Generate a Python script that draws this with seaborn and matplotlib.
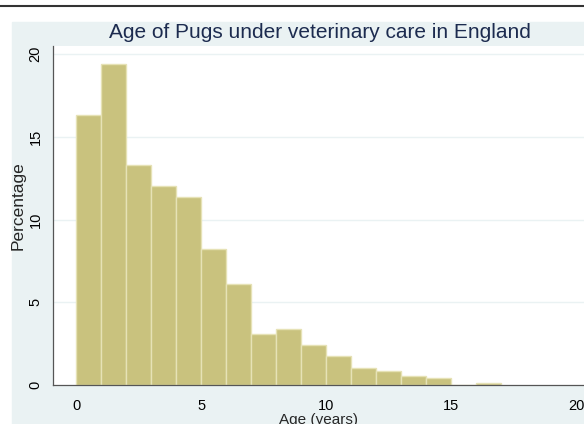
import numpy as np
import matplotlib
matplotlib.use('Agg')
import matplotlib.pyplot as plt
from matplotlib.patches import Rectangle
from matplotlib.lines import Line2D
import seaborn as sns

# ── Data (percentage of pugs per 1-year age band) ─────────────────────────────
age_start = [0, 1, 2, 3, 4, 5, 6, 7, 8, 9, 10, 11, 12, 13, 14, 15, 16]
pct = [16.3, 19.4, 13.3, 12.05, 11.35, 8.25, 6.1, 3.1, 3.4, 2.4, 1.73, 1.02,
       0.82, 0.54, 0.44, 0.0, 0.15]
bin_edges = list(range(0, 18))
x_ticks = [0, 5, 10, 15, 20]
y_ticks = [0, 5, 10, 15, 20]

BG = '#EAF2F3'
BAR = '#C9C27E'
EDGE = '#E6E2B6'
TXT = '#1C2B4F'

sns.set_style('white')
plt.rcParams['font.family'] = ['Liberation Sans', 'DejaVu Sans']

fig = plt.figure(figsize=(5.84, 4.24), dpi=100)
fig.patch.set_facecolor('white')
fig.patches.append(Rectangle((12 / 584, 0), 1, (424 - 22) / 424,
                             transform=fig.transFigure, color=BG, zorder=-10))
fig.lines.append(Line2D([0, 1], [1 - 6 / 424] * 2, transform=fig.transFigure,
                        color='#333333', linewidth=1.5))

ax = fig.add_axes([53 / 584, 39 / 424, 1 - 53 / 584, (385 - 46) / 424])
sns.histplot(x=age_start, weights=pct, bins=bin_edges, stat='count',
             color=BAR, edgecolor=EDGE, linewidth=1, alpha=1, ax=ax)

ax.set_xlim(-0.93, 20.32)
ax.set_ylim(0, 20.5)
ax.set_xticks(x_ticks)
ax.set_yticks(y_ticks)
ax.set_yticklabels([str(t) for t in y_ticks], rotation=90, va='center')
ax.tick_params(axis='both', length=5, width=0.8, color='#555555',
               labelsize=10.5, labelcolor='black', pad=5)
ax.tick_params(axis='y', pad=2.5)
for yv in y_ticks[1:]:
    ax.axhline(yv, color=BG, linewidth=1, zorder=0)
for s in ['top', 'right']:
    ax.spines[s].set_visible(False)
for s in ['left', 'bottom']:
    ax.spines[s].set_color('#555555')
    ax.spines[s].set_linewidth(0.9)

ax.set_xlabel('Age (years)', fontsize=11, labelpad=0)
ax.set_ylabel('Percentage', fontsize=12.5, va='center')
ax.yaxis.set_label_coords(-35 / 531, 0.53)
fig.text(320 / 584, 1 - 32 / 424, 'Age of Pugs under veterinary care in England',
         ha='center', va='center', fontsize=15, color=TXT)

fig.savefig('out.png', dpi=100)
